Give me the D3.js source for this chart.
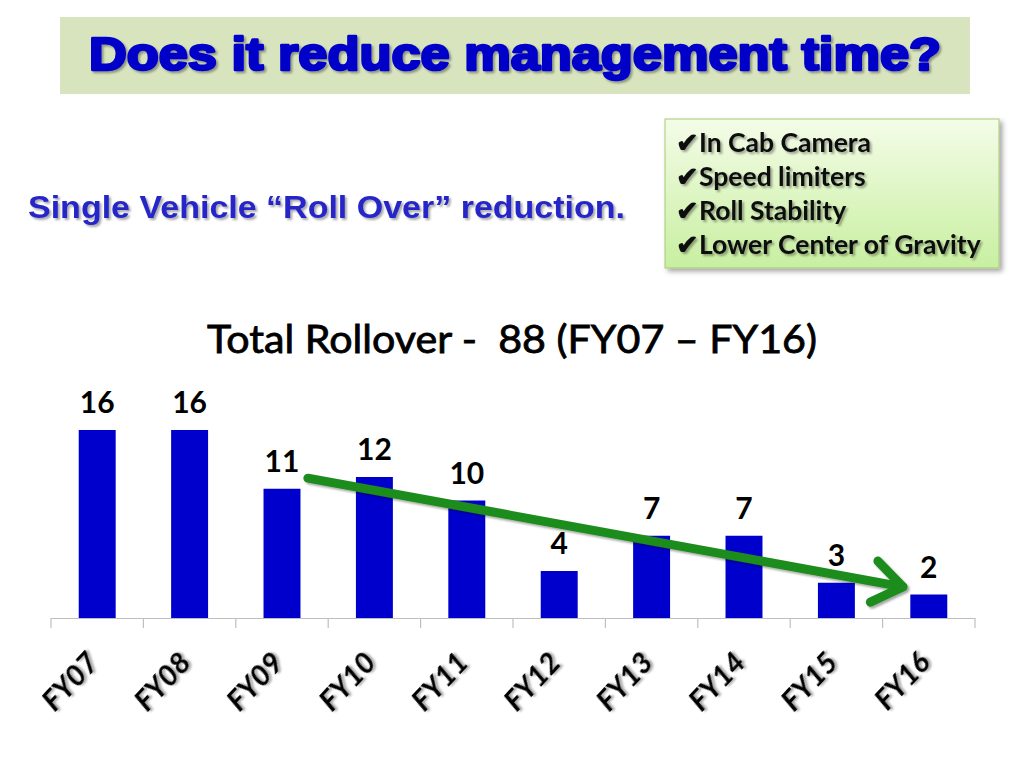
<!DOCTYPE html>
<html>
<head>
<meta charset="utf-8">
<script src="https://cdn.jsdelivr.net/npm/d3@7"></script>
<style>
  html, body { margin: 0; padding: 0; background: #ffffff; }
  svg { display: block; }
</style>
</head>
<body>
<svg id="chart" width="1024" height="768"></svg>
<script>
// ---- data ----
const categories = ["FY07", "FY08", "FY09", "FY10", "FY11", "FY12", "FY13", "FY14", "FY15", "FY16"];
const rollovers = [16, 16, 11, 12, 10, 4, 7, 7, 3, 2];
const headerTitle = "Does it reduce management time?";
const subTitle = "Single Vehicle \u201cRoll Over\u201d reduction.";
const chartTitle = "Total Rollover -  88 (FY07 \u2013 FY16)";
const measures = ["In Cab Camera", "Speed limiters", "Roll Stability", "Lower Center of Gravity"];
// trend arrow in data space: [category index (fractional), value]
const trendFrom = [2.28, 11.9];
const trendTo = [8.72, 2.65];

// ---- setup ----
const svg = d3.select("#chart");
const defs = svg.append("defs");

const shadow = defs.append("filter").attr("id", "shadow").attr("x", "-10%").attr("y", "-10%").attr("width", "130%").attr("height", "140%");
shadow.append("feDropShadow").attr("dx", 2).attr("dy", 2).attr("stdDeviation", 1.2).attr("flood-color", "#000").attr("flood-opacity", 0.35);

const boxShadow = defs.append("filter").attr("id", "boxShadow").attr("x", "-10%").attr("y", "-10%").attr("width", "130%").attr("height", "140%");
boxShadow.append("feDropShadow").attr("dx", 3).attr("dy", 3).attr("stdDeviation", 2.5).attr("flood-color", "#000").attr("flood-opacity", 0.35);

const grad = defs.append("linearGradient").attr("id", "boxGrad").attr("x1", 0).attr("y1", 0).attr("x2", 0).attr("y2", 1);
grad.append("stop").attr("offset", "0%").attr("stop-color", "#f4fce8");
grad.append("stop").attr("offset", "100%").attr("stop-color", "#c8efa0");

// ---- header ----
svg.append("rect").attr("x", 60).attr("y", 17).attr("width", 910).attr("height", 77).attr("fill", "#d8e4bd");
svg.append("text")
  .attr("x", 89).attr("y", 70)
  .attr("textLength", 852).attr("lengthAdjust", "spacingAndGlyphs")
  .attr("font-family", "Liberation Sans, Arial, sans-serif")
  .attr("font-weight", "bold").attr("font-size", 46)
  .attr("fill", "#0000c8").attr("stroke", "#0000c8").attr("stroke-width", 2.6).attr("stroke-linejoin", "round")
  .attr("filter", "url(#shadow)")
  .text(headerTitle);

// ---- subtitle ----
svg.append("text")
  .attr("x", 28).attr("y", 218)
  .attr("textLength", 597).attr("lengthAdjust", "spacingAndGlyphs")
  .attr("font-family", "Liberation Sans, Arial, sans-serif")
  .attr("font-weight", "bold").attr("font-size", 32)
  .attr("fill", "#2626c8")
  .attr("filter", "url(#shadow)")
  .text(subTitle);

// ---- measures box ----
svg.append("rect").attr("x", 665).attr("y", 119).attr("width", 334).attr("height", 149)
  .attr("fill", "url(#boxGrad)").attr("stroke", "#a8c878").attr("stroke-width", 1)
  .attr("filter", "url(#boxShadow)");
svg.append("g").selectAll("text").data(measures).join("text")
  .attr("x", 676).attr("y", (d, i) => 152 + i * 34)
  .attr("font-family", "Lato, Carlito, sans-serif")
  .attr("font-weight", "bold").attr("font-size", 26.5)
  .attr("fill", "#111")
  .attr("filter", "url(#shadow)")
  .text(d => "\u2714" + d);

// ---- chart ----
const baseY = 618;
const x = d3.scaleBand().domain(categories).range([51, 975]).paddingInner(0.6).paddingOuter(0.3);
const y = d3.scaleLinear().domain([0, 16]).range([baseY, 430]);
const xi = d3.scaleLinear().domain([-0.5, categories.length - 0.5]).range([51, 975]);

svg.append("text")
  .attr("x", 512).attr("y", 353).attr("text-anchor", "middle")
  .style("white-space", "pre")
  .attr("textLength", 610).attr("lengthAdjust", "spacingAndGlyphs")
  .attr("font-family", "Lato, Carlito, sans-serif").attr("font-size", 39)
  .attr("fill", "#000").attr("stroke", "#000").attr("stroke-width", 0.8)
  .text(chartTitle);

svg.append("g").selectAll("rect").data(rollovers).join("rect")
  .attr("x", (d, i) => x(categories[i]))
  .attr("y", d => y(d))
  .attr("width", x.bandwidth())
  .attr("height", d => baseY - y(d))
  .attr("fill", "#0000cc");

svg.append("g").selectAll("text").data(rollovers).join("text")
  .attr("x", (d, i) => x(categories[i]) + x.bandwidth() / 2)
  .attr("y", d => y(d) - 17)
  .attr("text-anchor", "middle")
  .attr("font-family", "Lato, Carlito, sans-serif")
  .attr("font-weight", "bold").attr("font-size", 30)
  .attr("fill", "#000")
  .text(d => d);

// axis
const axisG = svg.append("g").attr("transform", `translate(0,${baseY})`);
const xOuter = d3.scalePoint().domain(d3.range(categories.length + 1)).range([51, 975]);
axisG.append("line").attr("x1", 51).attr("x2", 975).attr("y1", 0.5).attr("y2", 0.5).attr("stroke", "#bfbfbf").attr("stroke-width", 1.2);
axisG.selectAll("line.tick").data(xOuter.domain()).join("line").attr("class", "tick")
  .attr("x1", d => xOuter(d)).attr("x2", d => xOuter(d))
  .attr("y1", 0).attr("y2", 10).attr("stroke", "#bfbfbf").attr("stroke-width", 1.2);

svg.append("g").selectAll("text").data(categories).join("text")
  .attr("transform", d => `translate(${x(d) + x.bandwidth() / 2 + 3},${664}) rotate(-47)`)
  .attr("text-anchor", "end")
  .attr("font-family", "Lato, Carlito, sans-serif")
  .attr("font-weight", "bold").attr("font-style", "italic").attr("font-size", 29)
  .attr("fill", "#000")
  .attr("filter", "url(#shadow)")
  .text(d => d);

// trend arrow
const ax1 = xi(trendFrom[0]), ay1 = y(trendFrom[1]);
const ax2 = xi(trendTo[0]), ay2 = y(trendTo[1]);
const ang = Math.atan2(ay2 - ay1, ax2 - ax1);
const headLen = 36, headAng = 0.62;
const arrowG = svg.append("g").attr("filter", "url(#shadow)")
  .attr("stroke", "#1e8c1e").attr("stroke-width", 9).attr("stroke-linecap", "round").attr("stroke-linejoin", "round").attr("fill", "none");
arrowG.append("path").attr("d", d3.line()([[ax1, ay1], [ax2, ay2]]));
arrowG.append("path").attr("d", d3.line()([
  [ax2 - headLen * Math.cos(ang - headAng), ay2 - headLen * Math.sin(ang - headAng)],
  [ax2, ay2],
  [ax2 - headLen * Math.cos(ang + headAng), ay2 - headLen * Math.sin(ang + headAng)]
]));
</script>
</body>
</html>
